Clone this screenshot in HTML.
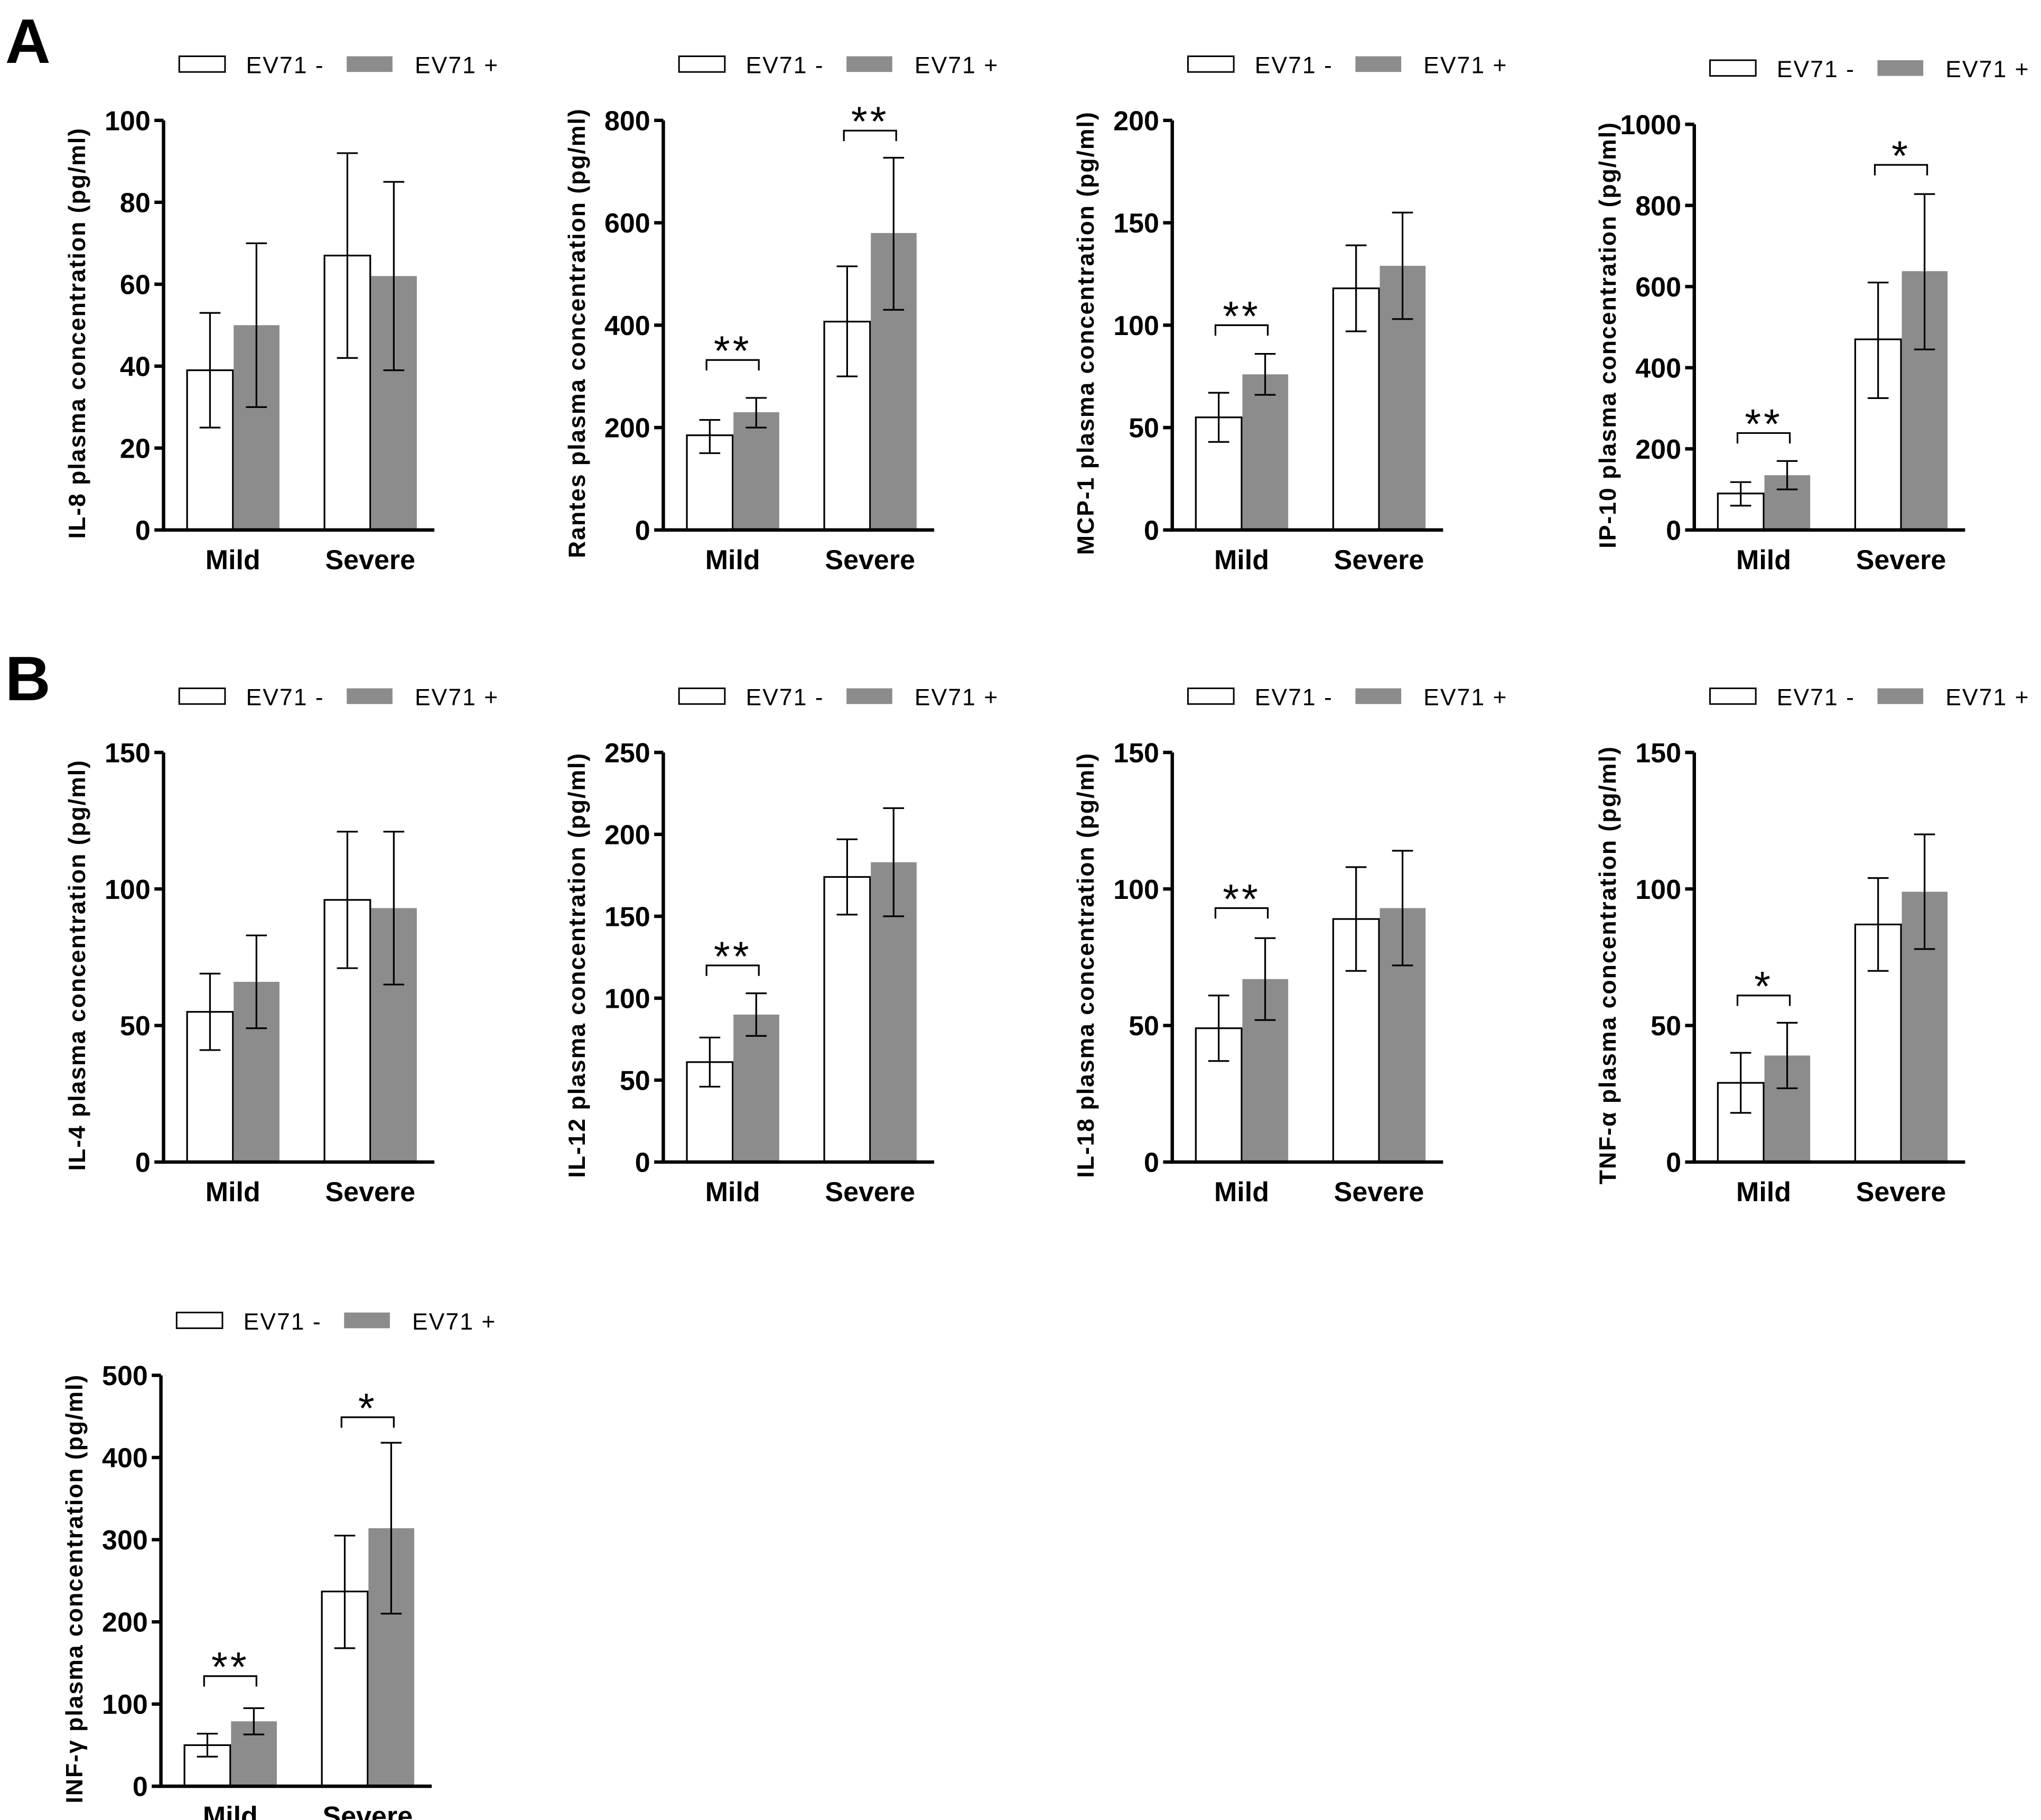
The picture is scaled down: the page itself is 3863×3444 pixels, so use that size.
<!DOCTYPE html>
<html><head><meta charset="utf-8"><style>
html,body{margin:0;padding:0;background:#fff;}
svg{display:block;}
text{font-family:"Liberation Sans",Arial,sans-serif;}
</style></head><body>
<svg id="fig" width="3863" height="3444" viewBox="0 0 1560 1390.8" xmlns="http://www.w3.org/2000/svg">
<text x="4" y="48" font-size="48" font-weight="bold">A</text>
<text x="4" y="535" font-size="48" font-weight="bold">B</text>
</svg>
<script>
const categories = ["Mild","Severe"];
const titles = ["IL-8","Rantes","MCP-1","IP-10","IL-4","IL-12","IL-18","TNF-\u03b1","INF-\u03b3"];
const yMax = [100,800,200,1000,150,250,150,150,500];
const yStep = [20,200,50,200,50,50,50,50,100];
const negMean = [[39,67],[185,407],[55,118],[90,470],[55,96],[61,174],[49,89],[29,87],[50,237]];
const negLo = [[25,42],[150,300],[43,97],[60,325],[41,71],[46,151],[37,70],[18,70],[36,168]];
const negHi = [[53,92],[215,515],[67,139],[118,610],[69,121],[76,197],[61,108],[40,104],[64,305]];
const posMean = [[50,62],[230,580],[76,129],[135,638],[66,93],[90,183],[67,93],[39,99],[79,314]];
const posLo = [[30,39],[200,430],[66,103],[100,445],[49,65],[77,150],[52,72],[27,78],[63,210]];
const posHi = [[70,85],[258,727],[86,155],[170,828],[83,121],[103,216],[82,114],[51,120],[95,418]];
// significance: panel, group, label, bracket value
const sigPanel = [1,1,2,3,3,5,6,7,8,8];
const sigGroup = [0,1,0,0,1,0,0,0,0,1];
const sigLabel = ["**","**","**","**","*","**","**","*","**","*"];
const sigValue = [332,780,100,239,900,120,93,61,134,449];

// layout (not data)
const layout = [
 {ax:125,top:92,bot:405,ly:43},{ax:507,top:92,bot:405,ly:43},{ax:896,top:92,bot:405,ly:43},{ax:1295,top:95,bot:405,ly:46},
 {ax:125,top:575,bot:888,ly:526},{ax:507,top:575,bot:888,ly:526},{ax:896,top:575,bot:888,ly:526},{ax:1295,top:575,bot:888,ly:526},
 {ax:123,top:1051,bot:1365,ly:1003}
];
const NS="http://www.w3.org/2000/svg";
const svg=document.getElementById('fig');
function mk(tag,attrs,parent){const e=document.createElementNS(NS,tag);for(const k in attrs)e.setAttribute(k,attrs[k]);(parent||svg).appendChild(e);return e;}
const gOff=[18,123];
titles.forEach((t,p)=>{
  const L=layout[p];
  const g=mk('g',{});
  
  
  const y=v=>L.bot-(v/yMax[p])*(L.bot-L.top);
  const lx=L.ax+12;
  const r1=mk('rect',{x:lx,y:L.ly,width:35,height:12,fill:'#fff',stroke:'#000','stroke-width':1.2},g);
  
  
  const t1=mk('text',{x:lx+51,y:L.ly+13,'font-size':18,'letter-spacing':'0.8'},g);t1.textContent='EV71 -';
  
  
  const r2=mk('rect',{x:lx+128,y:L.ly,width:35,height:12,fill:'#8c8c8c'},g);
  
  
  const t2=mk('text',{x:lx+180,y:L.ly+13,'font-size':18,'letter-spacing':'0.8'},g);t2.textContent='EV71 +';
  
  
  categories.forEach((c,i)=>{
    const x0=L.ax+gOff[i];
    const yn=y(negMean[p][i]), yp=y(posMean[p][i]);
    const bn=mk('rect',{x:x0,y:yn,width:35,height:L.bot-yn,fill:'#fff',stroke:'#000','stroke-width':1.3},g);
    
    
    const bp=mk('rect',{x:x0+35.6,y:yp,width:35,height:L.bot-yp,fill:'#8c8c8c'},g);
    
    
    [[x0+17.5,negLo[p][i],negHi[p][i],'neg'],[x0+53,posLo[p][i],posHi[p][i],'pos']].forEach(e=>{
      const d=`M${e[0]},${y(e[1])}V${y(e[2])}M${e[0]-8},${y(e[1])}h16M${e[0]-8},${y(e[2])}h16`;
      const eb=mk('path',{d:d,stroke:'#000','stroke-width':1.3,fill:'none'},g);
      
      
    });
    const cl=mk('text',{x:x0+35,y:L.bot+30,'font-size':21,'font-weight':'bold','text-anchor':'middle'},g);cl.textContent=c;
    
    
  });
  const ax=mk('path',{d:`M${L.ax},${L.top}V${L.bot}H${L.ax+207}`,stroke:'#000','stroke-width':2.6,fill:'none'},g);
  
  
  for(let v=0;v<=yMax[p]+1e-9;v+=yStep[p]){
    const tk=mk('path',{d:`M${L.ax-7},${y(v)}H${L.ax}`,stroke:'#000','stroke-width':2.6},g);
    
    
    const tl=mk('text',{x:L.ax-10,y:y(v)+7.5,'font-size':21,'font-weight':'bold','text-anchor':'end'},g);tl.textContent=v;
    
    
  }
  const yt=mk('text',{x:0,y:0,'font-size':18,'font-weight':'bold','letter-spacing':'0.8','text-anchor':'middle',transform:`translate(${L.ax-60},${(L.top+L.bot)/2+6}) rotate(-90)`},g);
  yt.textContent=t+' plasma concentration (pg/ml)';
  
  
});
sigPanel.forEach((p,k)=>{
  const L=layout[p];
  const y=v=>L.bot-(v/yMax[p])*(L.bot-L.top);
  const x0=L.ax+gOff[sigGroup[k]];
  const by=y(sigValue[k]);
  const br=mk('path',{d:`M${x0+15},${by+8}V${by}H${x0+55}V${by+8}`,stroke:'#000','stroke-width':1.3,fill:'none'});
  
  
  const st=mk('text',{x:x0+35,y:by+4,'font-size':32,'text-anchor':'middle','letter-spacing':'2'});
  st.textContent=sigLabel[k];
  
  
});
</script>
</body></html>
